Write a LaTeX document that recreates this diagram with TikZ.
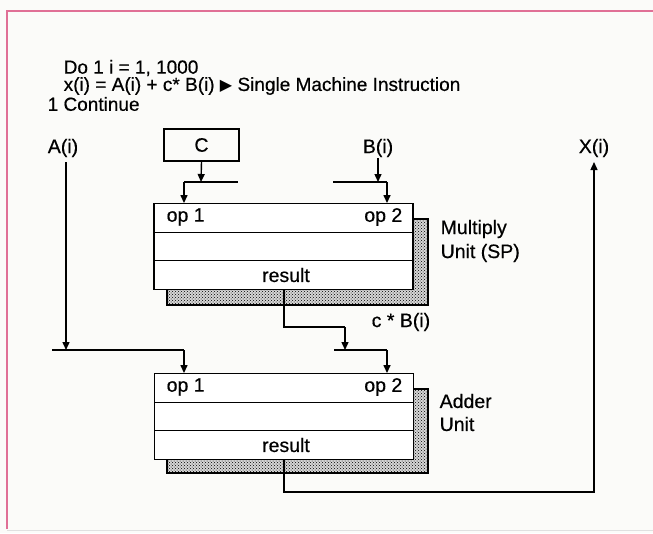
\documentclass[tikz,border=0pt]{standalone}
\usepackage{fontspec}
\setmainfont{Liberation Sans}[FakeBold=0.5]
\newfontfamily\dejavu{DejaVu Sans}
\usetikzlibrary{arrows.meta,patterns}
\definecolor{pinkline}{RGB}{224,112,150}
\definecolor{paper}{RGB}{251,251,249}
\begin{document}
\begin{tikzpicture}[x=1pt,y=-1pt,
  font=\fontsize{19.5}{22}\selectfont,
  line width=1.4pt,
  >={Triangle[length=8pt,width=7pt]},
  txt/.style={inner sep=0pt},
  head/.style={inner sep=0pt,anchor=west,font=\fontsize{19}{20}\selectfont},
  unitrow/.style={draw,fill=white,minimum width=259pt,minimum height=28.5pt,inner sep=0pt},
  shadebase/.style={fill=gray!32},
  shadow/.style={draw,pattern=crosshatch dots,pattern color=black},
  cbox/.style={draw,minimum width=75pt,minimum height=32pt,inner sep=0pt}]
\useasboundingbox (0,0) rectangle (653,533);
\fill[paper] (0,0) rectangle (653,533);
% frame
\draw[pinkline,line width=1.2pt] (7,529) -- (7,11) -- (653,11);
\draw[black!12,line width=1pt] (7,530) -- (653,530);

% heading
\node[head] (l1) at (63,68) {Do 1 i = 1, 1000};
\node[head] (l2) at (63,86) {x(i) = A(i) + c* B(i) {\dejavu\fontsize{16}{17}\selectfont ▶} Single Machine Instruction};
\node[head] (l3) at (47,104) {1 Continue};

% top labels
\node[txt] (A) at (63,148) {A(i)};
\node[cbox] (C) at (201.5,145) {C};
\node[txt] (B) at (378,148) {B(i)};
\node[txt] (X) at (594,148) {X(i)};

% multiply unit
\path[shadebase] (167,219) rectangle (428,305);
\path[shadow] (167,219) rectangle (428,305);
\node[unitrow] (m1) at (283.5,218) {};
\node[unitrow] (m2) at (283.5,246.5) {};
\node[unitrow] (m3) at (283.5,275) {};
\node[txt,anchor=west] (mop1) at (166,217) {op 1};
\node[txt,anchor=east] (mop2) at (403,217) {op 2};
\node[txt] (mres) at (286,275) {result};
\node[txt,anchor=west] (mlab1) at (440,229) {Multiply};
\node[txt,anchor=west] (mlab2) at (440,253) {Unit (SP)};

% adder unit
\path[shadebase] (167,389) rectangle (428,473);
\path[shadow] (167,389) rectangle (428,473);
\node[unitrow] (a1) at (284,388) {};
\node[unitrow] (a2) at (284,416.5) {};
\node[unitrow] (a3) at (284,445) {};
\node[txt,anchor=west] (aop1) at (166,387) {op 1};
\node[txt,anchor=east] (aop2) at (403,387) {op 2};
\node[txt] (ares) at (286,445) {result};
\node[txt,anchor=west] (alab1) at (439,401) {Adder};
\node[txt,anchor=west] (alab2) at (439,424) {Unit};

\node[txt,anchor=west] (cb) at (371,322) {c * B(i)};

% coordinates
\coordinate (cjoin) at (201,182);
\coordinate (cL) at (184,182);
\coordinate (cR) at (238,182);
\coordinate (bjoin) at (378,182);
\coordinate (bL) at (333,182);
\coordinate (bR) at (387,182);
\coordinate (atop) at (66,162);
\coordinate (ajoin) at (66,350);
\coordinate (aL) at (52,350);
\coordinate (aR) at (184,350);
\coordinate (mout) at (284,289);
\coordinate (mbend) at (284,327);
\coordinate (mjoin) at (345,350);
\coordinate (pL) at (334,350);
\coordinate (pR) at (387,350);
\coordinate (aout) at (284,459);
\coordinate (abend) at (284,492);
\coordinate (xbend) at (594,492);
\coordinate (xtop) at (594,162);

% connectors into multiply unit
\draw[->] (C.south) -- (cjoin);
\draw (cL) -- (cR);
\draw[->] (cL) -- (cL |- m1.north);
\draw[->] (B.south) -- (bjoin);
\draw (bL) -- (bR);
\draw[->] (bR) -- (bR |- m1.north);

% multiply output to adder
\draw (mout) -- (mbend) -- (mbend -| mjoin);
\draw[->] (mbend -| mjoin) -- (mjoin);
\draw (pL) -- (pR);
\draw[->] (pR) -- (pR |- a1.north);

% A(i) path
\draw[->] (atop) -- (ajoin);
\draw (aL) -- (aR);
\draw[->] (aR) -- (aR |- a1.north);

% adder output to X(i)
\draw[->] (aout) -- (abend) -- (xbend) -- (xtop);
\end{tikzpicture}
\end{document}
